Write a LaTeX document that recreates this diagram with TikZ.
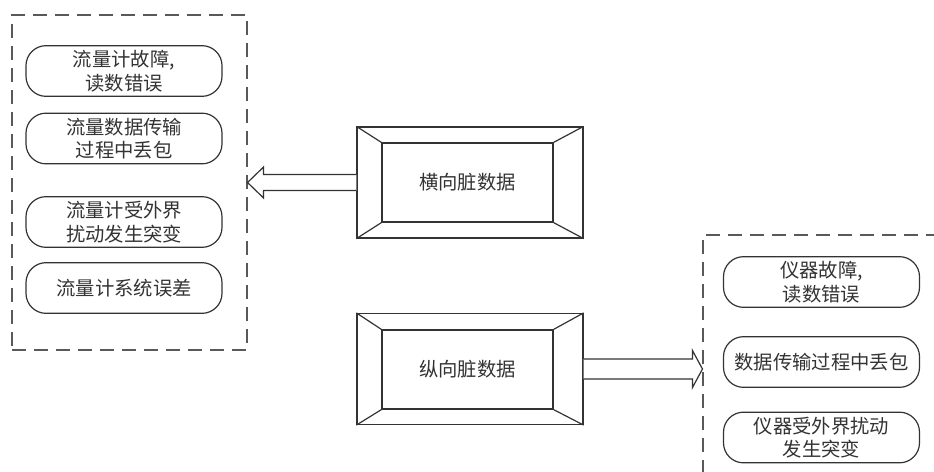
\documentclass[tikz,border=0pt]{standalone}
\usepackage{fontspec}
\setmainfont{Noto Sans CJK SC}
\usetikzlibrary{calc}
\begin{document}
\begin{tikzpicture}[
    x=0.75pt, y=-0.75pt,
    font=\fontsize{14.5}{17.5}\selectfont,
    line/.style={draw=black!80, line width=0.9pt},
    cause/.style={line, text=black!80, rounded corners=15pt, minimum width=147pt, minimum height=38pt, align=center, inner sep=0pt},
    group/.style={draw=black!65, line width=0.8pt, dash pattern=on 10.5pt off 6pt},
    frameout/.style={line, minimum width=169.5pt, minimum height=83.25pt, inner sep=0pt},
    framein/.style={line, text=black!80, minimum width=128.25pt, minimum height=59.25pt, inner sep=0pt},
    hollow/.style={line, fill=white, line join=miter},
]
    \clip (0,0) rectangle (934,471);

    % dashed groups
    \node[group, minimum width=176.25pt, minimum height=251.25pt] (lgroup) at (129.5,182.5) {};
    \node[group, minimum width=195pt, minimum height=200pt] (rgroup) at (833,368.3) {};

    % horizontal dirty data
    \node[frameout] (hout) at (470,182.5) {};
    \node[framein] (hin) at (467.5,182.5) {横向脏数据};
    \foreach \c in {north west, north east, south west, south east}
        \draw[line] (hout.\c) -- (hin.\c);

    % vertical dirty data
    \node[frameout] (vout) at (470,369) {};
    \node[framein] (vin) at (467.5,369.5) {纵向脏数据};
    \foreach \c in {north west, north east, south west, south east}
        \draw[line] (vout.\c) -- (vin.\c);

    % left causes
    \node[cause] (l1) at (124,71) {流量计故障,\\读数错误};
    \node[cause] (l2) at (124,138.5) {流量数据传输\\过程中丢包};
    \node[cause] (l3) at (124,222) {流量计受外界\\扰动发生突变};
    \node[cause] (l4) at (124,288) {流量计系统误差};

    % right causes
    \node[cause] (r1) at (821.5,282) {仪器故障,\\读数错误};
    \node[cause] (r2) at (821.5,362) {数据传输过程中丢包};
    \node[cause] (r3) at (821.5,437.5) {仪器受外界扰动\\发生突变};

    % hollow arrows
    \coordinate (ltip) at (lgroup.east |- hout.west);
    \draw[hollow] ($(hout.west)+(0,-8)$) -- ($(ltip)+(16,-8)$) -- ($(ltip)+(16,-15.5)$)
        -- (ltip) -- ($(ltip)+(16,15.5)$) -- ($(ltip)+(16,8)$) -- ($(hout.west)+(0,8)$);
    \coordinate (rtip) at (rgroup.west |- vout.east);
    \draw[hollow] ($(vout.east)+(0,-10)$) -- ($(rtip)+(-10,-10)$) -- ($(rtip)+(-10,-18.5)$)
        -- (rtip) -- ($(rtip)+(-10,18.5)$) -- ($(rtip)+(-10,10)$) -- ($(vout.east)+(0,10)$);
\end{tikzpicture}
\end{document}
